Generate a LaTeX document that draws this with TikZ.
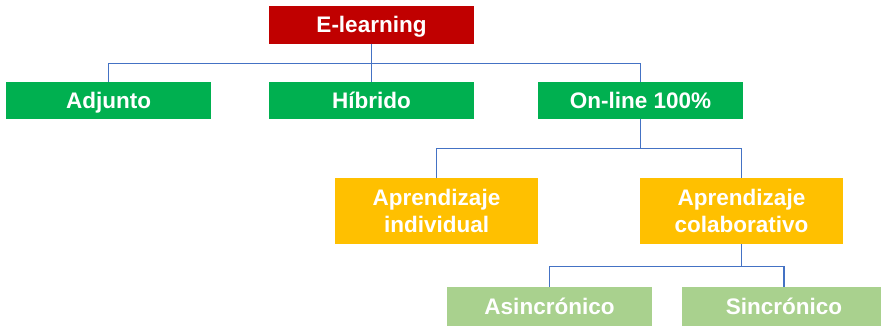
\documentclass[tikz,border=0pt]{standalone}
\usepackage{fontspec}
\setmainfont{Liberation Sans}
\usepackage{tikz}

\definecolor{boxred}{HTML}{C00000}
\definecolor{boxgreen}{HTML}{00B050}
\definecolor{boxorange}{HTML}{FFC000}
\definecolor{boxlight}{HTML}{A9D18E}
\definecolor{linkblue}{HTML}{4472C4}

\begin{document}
\begin{tikzpicture}[x=1pt,y=-1pt,
        box/.style={minimum width=205pt,minimum height=38pt,inner sep=0pt,
            text=white,font=\fontsize{22.5}{27}\selectfont\bfseries,
            text height=16pt,text depth=1pt},
        tall box/.style={box,minimum width=203pt,minimum height=66pt,
            align=center,text height=,text depth=},
        link/.style={draw=linkblue,line width=1.2pt}]
    \useasboundingbox (0,0) rectangle (881,327);

    % top level
    \node[box,fill=boxred] (elearn) at (371.5,25) {E-learning};

    % modalities
    \node[box,fill=boxgreen,minimum height=37pt] (adjunto) at (108.5,100.5) {Adjunto};
    \node[box,fill=boxgreen,minimum height=37pt] (hibrido) at (371.5,100.5) {Híbrido};
    \node[box,fill=boxgreen,minimum height=37pt] (online) at (640.5,100.5) {On-line 100\%};

    % kinds of learning
    \node[tall box,fill=boxorange] (individual) at (436.5,211) {Aprendizaje\\individual};
    \node[tall box,fill=boxorange] (colab) at (741.5,211) {Aprendizaje\\colaborativo};

    % timing
    \node[box,fill=boxlight,minimum height=39pt] (asinc) at (549.5,306.5) {Asincrónico};
    \node[box,fill=boxlight,minimum height=39pt] (sinc) at (784,306.5) {Sincrónico};

    \draw[link] (elearn.south) -- ++(0,19.5) -| (adjunto.north);
    \draw[link] (elearn.south) -- (hibrido.north);
    \draw[link] (elearn.south) -- ++(0,19.5) -| (online.north);

    \draw[link] (online.south) -- ++(0,29.5) -| (individual.north);
    \draw[link] (online.south) -- ++(0,29.5) -| (colab.north);

    \draw[link] (colab.south) -- ++(0,22) -| (asinc.north);
    \draw[link] (colab.south) -- ++(0,22) -| (sinc.north);
\end{tikzpicture}
\end{document}
